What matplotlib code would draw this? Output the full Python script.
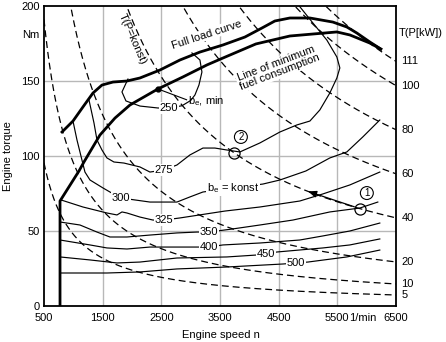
import numpy as np
import matplotlib
matplotlib.use('Agg')
import matplotlib.pyplot as plt
import matplotlib.transforms as mtransforms

plt.rcParams['font.family'] = ['Liberation Sans', 'DejaVu Sans']

# ---------------- data ----------------
x_ticks = [500, 1500, 2500, 3500, 4500, 5500, 5934, 6500]
x_tick_labels = ['500', '1500', '2500', '3500', '4500', '5500', '1/min', '6500']
y_ticks = [0, 50, 100, 150, 200]
y_tick_labels = ['0', '50', '100', '150', '200']
grid_x = [1500, 2500, 3500, 4500, 5500]
grid_y = [50, 100, 150]

# constant power curves T(P = konst), P in kW
power_kw = [5, 10, 20, 40, 60, 80, 100, 111]
power_labels = ['5', '10', '20', '40', '60', '80', '100', '111']

# full load curve
full_n = [807, 994, 1164, 1335, 1488, 1675, 1914, 2135, 2476, 2817, 3158, 3549,
          3924, 4214, 4435, 4691, 5032, 5423, 5662, 5832, 6054, 6241]
full_T = [116, 123.3, 132.7, 142, 147.3, 149.3, 150, 152, 157.3, 164, 169.3, 174,
          179.3, 185.3, 190, 192, 192, 189.3, 186, 182, 176, 171.3]

# line of minimum fuel consumption (incl. idle boundary)
minfc_n = [773, 773, 1096, 1181, 1454, 1710, 1965, 2442, 2868, 3277, 3549, 4112,
           4691, 5492, 5713, 6054, 6241]
minfc_T = [0, 70, 90, 96, 114, 125.3, 134, 144.7, 152.7, 160.7, 165.3, 174.7,
           180, 182.7, 180.7, 175.3, 171.3]

# be = konst contour lines (g/kWh)
be250_n = [1931, 1829, 1897, 2136, 2443, 2630, 2852, 3000, 3073, 3141, 3192, 3158, 3022]
be250_T = [151.3, 142.7, 136.7, 133.3, 132, 132, 133.5, 137, 140.7, 147.3, 156, 164, 168.7]

be275_n = [1267, 1352, 1403, 1488, 1573, 1692, 1863, 2135, 2306, 2544, 2766, 2987,
           3209, 3413, 3618, 3839, 4180, 4521, 4810, 5032, 5202, 5372, 5492, 5543,
           5492, 5321, 5083, 4810]
be275_T = [137.3, 122, 110.7, 104, 98.7, 96, 95.3, 92.7, 89.3, 90.7, 94, 100.7,
           105.3, 105.3, 104, 102.7, 108.7, 116, 120.7, 123.3, 130.7, 142, 152, 158.7,
           166, 177.3, 188.7, 202]

be300_n = [994, 1062, 1147, 1198, 1284, 1505, 1624, 1812, 2050, 2306, 2595, 2766,
           2987, 3209, 3720, 4231, 4521, 4963, 5372, 5662, 5934, 6224]
be300_T = [123.3, 110.7, 97.3, 89.3, 84, 78.7, 76, 72, 70.7, 69.3, 69.3, 69.3,
           72.7, 76, 78.7, 81.3, 84, 90, 98.7, 102.7, 112.7, 124]

be325_n = [790, 1164, 1573, 1744, 1829, 1914, 2135, 2357, 2544, 2817, 3584, 4180,
           4861, 5253, 5713, 6224]
be325_T = [70.7, 66, 62, 60.7, 62.7, 62, 59.3, 57.3, 57.3, 58.7, 63.3, 66,
           70, 74.7, 80.7, 89.3]

be350_n = [773, 1113, 1403, 1624, 1914, 2306, 2766, 3107, 3311, 3703, 4180, 4742,
           5372, 5883, 6190]
be350_T = [56, 54, 49.3, 46, 46, 47.3, 48.7, 49.3, 49.3, 51.3, 54, 57.3,
           62.7, 65.3, 69.3]

be400_n = [773, 1284, 1573, 1914, 2306, 2766, 3107, 3311, 3549, 4180, 4861, 5253,
           5713, 6224]
be400_T = [44, 40.7, 38.7, 38, 39.3, 39.3, 39.3, 39.3, 40.7, 42, 44, 46.7, 50, 55.3]

be450_n = [773, 1284, 1744, 2135, 2766, 3618, 4129, 4282, 4470, 5253, 5713, 6224]
be450_T = [32.7, 30.7, 28.7, 29.3, 32, 32.7, 34, 34.7, 36, 38.7, 40.7, 44.7]

be500_n = [773, 1573, 2135, 2766, 3618, 4572, 4793, 4998, 5662, 6224]
be500_T = [22, 22, 22.7, 24.7, 26, 28, 28.7, 29.3, 32.7, 37.3]

contour_label_text = ['250', '275', '300', '325', '350', '400', '450', '500']
contour_label_n = [2630, 2544, 1812, 2544, 3311, 3311, 4282, 4793]
contour_label_T = [132, 90.7, 72, 57.3, 49.3, 39.3, 34.7, 28.7]

# operating points 1 and 2 on P = 40 kW
op_power = 40
op_n = [5880, 3740]
op_labels = ['1', '2']
op_label_n = [6003, 3856]
op_label_T = [75.3, 112.7]
arrow_end_n = 5000

bemin_n = 2442
bemin_T = 144.7

# ---------------- figure ----------------
fig = plt.figure(figsize=(4.46, 3.42), dpi=100)
ax = fig.add_axes([44/446, 36/342, 352/446, 300/342])
ax.set_xlim(500, 6500)
ax.set_ylim(0, 200)

for gx in grid_x:
    ax.axvline(gx, color='#b8b8b8', lw=1.0, zorder=0)
for gy in grid_y:
    ax.axhline(gy, color='#b8b8b8', lw=1.0, zorder=0)

n_curve = np.linspace(500, 6500, 600)
dash = (0, (5.5, 3.2))
for P, lab in zip(power_kw, power_labels):
    T = 9549.3 * P / n_curve
    ax.plot(n_curve, T, color='black', lw=0.9, ls=dash, zorder=1)
    ax.annotate(lab, xy=(6500, 9549.3 * P / 6500), xytext=(4, 0),
                textcoords='offset points', ha='left', va='center',
                fontsize=8, annotation_clip=False)

thin = dict(color='black', lw=0.85, zorder=2, solid_joinstyle='round')
for nn, tt in [(be250_n, be250_T), (be275_n, be275_T), (be300_n, be300_T),
               (be325_n, be325_T), (be350_n, be350_T), (be400_n, be400_T),
               (be450_n, be450_T), (be500_n, be500_T)]:
    ax.plot(nn, tt, **thin)

ax.plot(full_n, full_T, color='black', lw=2.0, zorder=3, solid_joinstyle='round')
ax.plot(minfc_n, minfc_T, color='black', lw=2.0, zorder=3, solid_joinstyle='round')

box = dict(boxstyle='square,pad=0.08', fc='white', ec='none')
for txt, nn, tt in zip(contour_label_text, contour_label_n, contour_label_T):
    ax.text(nn, tt, txt, fontsize=8, ha='center', va='center', bbox=box, zorder=4)

ax.text(3720, 78.7, r'b$_\mathregular{e}$ = konst', fontsize=8, ha='center',
        va='center', bbox=box, zorder=4)
ax.text(2953, 136.7, r'b$_\mathregular{e}$, min', fontsize=8, ha='left',
        va='center', zorder=4)
ax.plot([bemin_n, 2930], [bemin_T, 137.5], color='black', lw=0.8, zorder=3)
ax.plot([bemin_n], [bemin_T], 'o', color='black', ms=3.5, zorder=5)

ax.text(3280, 181, 'Full load curve', fontsize=8, ha='center', va='center',
        rotation=18, bbox=box, zorder=4)
ax.text(4487, 158.7, 'Line of minimum\nfuel consumption', fontsize=8,
        ha='center', va='center', rotation=21, linespacing=1.0,
        bbox=box, zorder=4)
ax.text(2000, 178, 'T(P=konst)', fontsize=8, ha='center', va='center',
        rotation=-66, zorder=4)

# operating points
for nn in op_n:
    ax.plot([nn], [9549.3 * op_power / nn], 'o', ms=8, mfc='none', mec='black',
            mew=0.9, zorder=5)
for txt, nn, tt in zip(op_labels, op_label_n, op_label_T):
    ax.text(nn, tt, txt, fontsize=7, ha='center', va='center', zorder=5,
            bbox=dict(boxstyle='circle,pad=0.15', fc='white', ec='black', lw=0.8))
ax.annotate('', xy=(arrow_end_n, 9549.3 * op_power / arrow_end_n),
            xytext=(op_n[0], 9549.3 * op_power / op_n[0]),
            arrowprops=dict(arrowstyle='-|>,head_length=0.5,head_width=0.2',
                            color='black', lw=0.9, shrinkA=4, shrinkB=0),
            zorder=5)

# axes styling
ax.set_xticks(x_ticks)
ax.set_xticklabels(x_tick_labels)
ax.set_yticks(y_ticks)
ax.set_yticklabels(y_tick_labels)
ax.tick_params(length=0, labelsize=8)
ax.tick_params(axis='x', pad=5)
ax.tick_params(axis='y', pad=3)
for s in ax.spines.values():
    s.set_linewidth(1.3)

trans = mtransforms.blended_transform_factory(ax.transAxes, ax.transData)
ax.text(-0.012, 180.7, 'Nm', transform=trans, ha='right', va='center', fontsize=8)
ax.text(1.008, 182, 'T(P[kW])', transform=trans, ha='left', va='center', fontsize=8)

fig.text(221/446, 1 - 335/342, 'Engine speed n', ha='center', va='center', fontsize=8)
fig.text(8/446, 1 - 156/342, 'Engine torque', ha='center', va='center',
         rotation=90, fontsize=8)

fig.savefig('out.png', dpi=100)
